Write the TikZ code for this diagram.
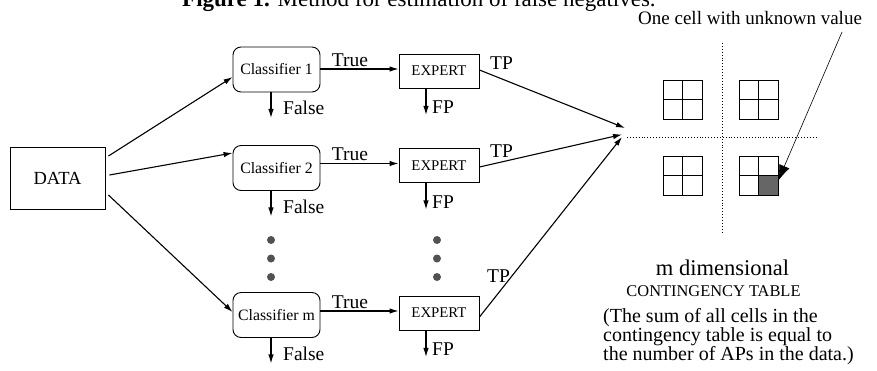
\documentclass[tikz,border=0pt]{standalone}
\usepackage{fontspec}
\setmainfont{Liberation Serif}
\usetikzlibrary{arrows.meta,calc}
\begin{document}
\begin{tikzpicture}[x=1pt,y=-1pt,
  arr/.style={-{Latex[length=9pt,width=5.5pt]}, line width=1.1pt},
  databox/.style={draw, line width=0.9pt, minimum width=95pt, minimum height=62pt,
    inner sep=0pt, font=\fontsize{18.5}{21}\selectfont},
  clsbox/.style={draw, line width=0.9pt, rounded corners=8pt, minimum width=87pt,
    minimum height=45pt, inner sep=0pt, font=\fontsize{15.8}{18}\selectfont},
  expbox/.style={draw, line width=0.9pt, minimum width=80pt, minimum height=34pt,
    inner sep=0pt, font=\fontsize{14.8}{17}\selectfont},
  lbl/.style={inner sep=0pt, font=\fontsize{19.5}{22}\selectfont},
  para/.style={inner sep=0pt, anchor=base west, font=\fontsize{20}{22}\selectfont},
  vdot/.style={circle, fill=black!68, minimum size=8pt, inner sep=0pt},
  cellgrid/.style={line width=1pt}]

\useasboundingbox (0,0) rectangle (877,370);

% caption (partly cut by the page edge)
\node[inner sep=0pt, anchor=base west, font=\fontsize{23}{26}\selectfont] (caption) at (182,6)
  {\textbf{Figure 1.} Method for estimation of false negatives.};

% main blocks
\node[databox] (data) at (57.5,178) {DATA};
\node[clsbox] (c1) at (276.5,69.5) {Classifier 1};
\node[clsbox] (c2) at (276.5,168) {Classifier 2};
\node[clsbox] (cm) at (276.5,315) {Classifier m};
\node[expbox] (e1) at (439,71) {EXPERT};
\node[expbox] (e2) at (439,165.5) {EXPERT};
\node[expbox] (em) at (439,313) {EXPERT};

% data to classifiers
\draw[arr] ($(data.east)+(3,-22)$) -- ($(c1.west)+(0,7.5)$);
\draw[arr] ($(data.east)+(4,-3)$) -- ($(c2.west)+(0,-15)$);
\draw[arr] ($(data.east)+(3,17)$) -- ($(cm.west)+(0,-3)$);

% classifiers to experts
\foreach \c/\e/\n in {c1/e1/1, c2/e2/2, cm/em/3} {
  \coordinate (true\n) at ($(\e.west)+(0,-2)$);
  \draw[arr] (true\n -| \c.east) -- (true\n);
  \node[lbl, anchor=base] (truelbl\n) at ($(true\n -| 350,0)+(0,-3)$) {True};
  % rejected by classifier
  \draw[arr] ($(\c.south)+(-5.5,0)$) -- ++(0,25.5) coordinate (fal\n);
  \node[lbl, anchor=base west] (fallbl\n) at ($(fal\n)+(12,-3)$) {False};
  % rejected by expert
  \draw[arr] ($(\e.south)+(-13,0)$) -- ++(0,26.5) coordinate (fp\n);
  \node[lbl, anchor=base west] (fplbl\n) at ($(fp\n)+(6,-1)$) {FP};
}

% vertical ellipsis dots
\foreach \y [count=\i] in {240,258.5,277} {
  \node[vdot] (cdot\i) at (271,\y) {};
  \node[vdot] (edot\i) at (437,\y) {};
}

% experts to the contingency table
\coordinate (tpa) at (625,128);
\coordinate (tpb) at (622,134.5);
\coordinate (tpc) at (622,137);
\draw[arr] ($(e1.east)+(0,-1)$) -- (tpa);
\draw[arr] ($(e2.east)+(0,1.5)$) -- (tpb);
\draw[arr] ($(em.east)+(0,4)$) -- (tpc);
\node[lbl, anchor=base west] (tplbl1) at (490,69) {TP};
\node[lbl, anchor=base west] (tplbl2) at (490,157) {TP};
\node[lbl, anchor=base west] (tplbl3) at (487,282) {TP};

% axes of the table
\draw[dotted, line width=0.9pt] (627,137) -- (817,137);
\draw[dotted, line width=0.9pt] (722,43) -- (722,233);

% the four 2x2 blocks
\fill[black!60] (758.5,175.5) rectangle (777.5,194.5);
\foreach \gx/\gy in {663/80, 739/80, 663/156, 739/156} {
  \draw[cellgrid] (\gx,\gy) rectangle ++(39,39);
  \draw[cellgrid] (\gx+19.5,\gy) -- ++(0,39);
  \draw[cellgrid] (\gx,\gy+19.5) -- ++(39,0);
}

% note on the unknown cell
\node[inner sep=0pt, anchor=base west, font=\fontsize{19}{22}\selectfont] (note) at (638,24)
  {One cell with unknown value};
\coordinate (nstart) at (842,32);
\coordinate (unk) at (778,181);
\draw[line width=0.6pt, -{Latex[length=16pt,width=11pt]}] (nstart) -- (unk);

% table caption
\node[inner sep=0pt, anchor=base, font=\fontsize{22.5}{25}\selectfont] (mdim) at (722.5,275) {m dimensional};
\node[inner sep=0pt, anchor=base, font=\fontsize{16.4}{19}\selectfont] (ctab) at (713.5,296) {CONTINGENCY TABLE};
\node[para] (p1) at (603,322) {(The sum of all cells in the};
\node[para] (p2) at (603,341) {contingency table is equal to};
\node[para] (p3) at (603,360) {the number of APs in the data.)};

\end{tikzpicture}
\end{document}
